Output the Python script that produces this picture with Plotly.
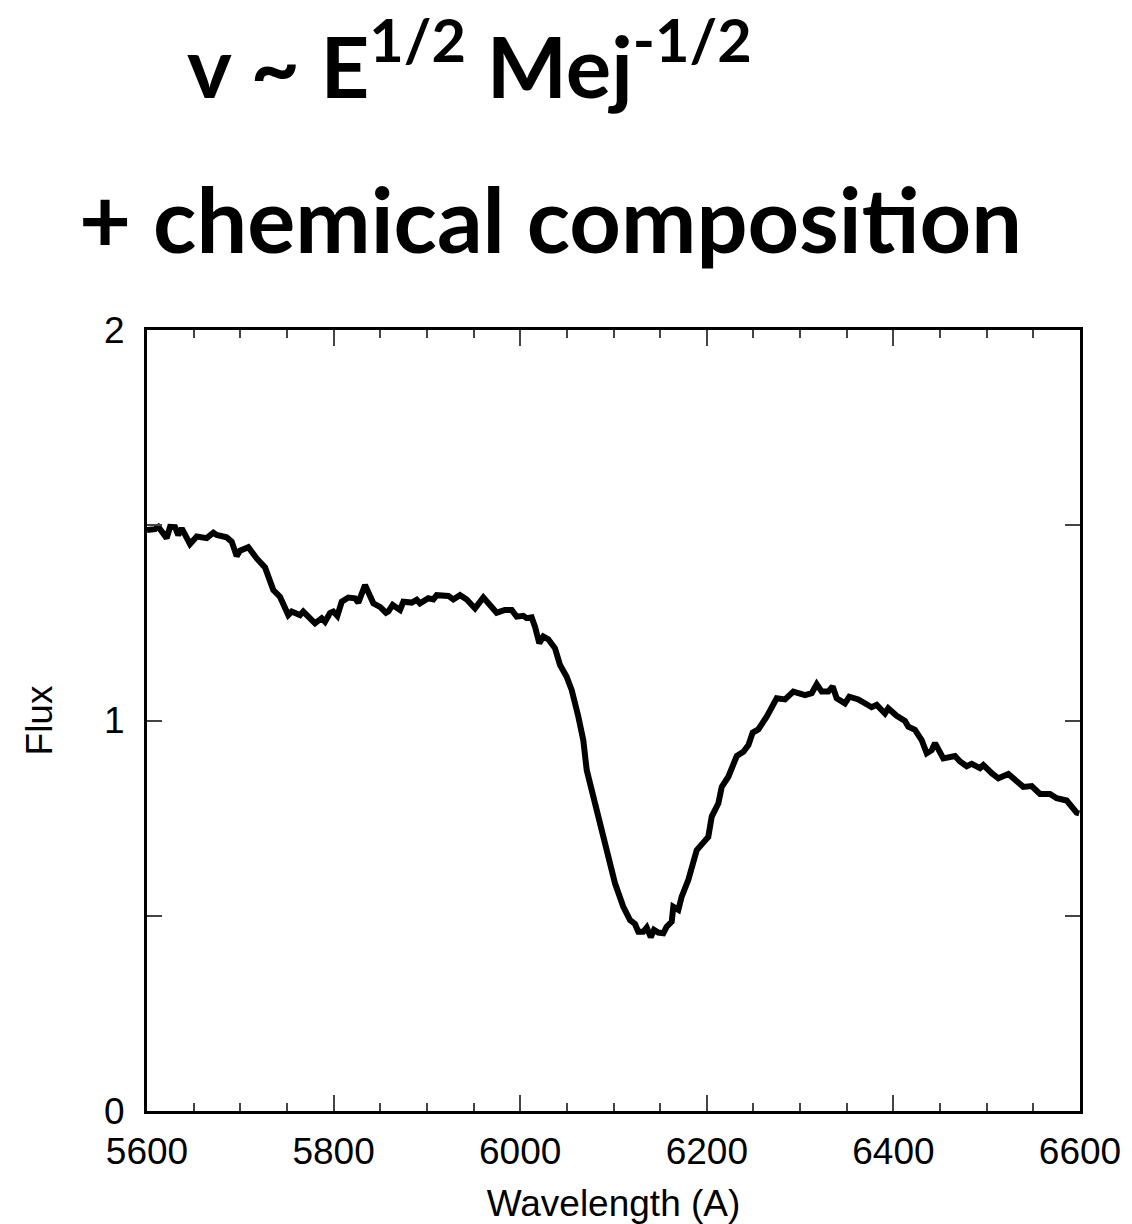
import plotly.graph_objects as go

wavelength = [5600, 5608.6, 5612.1, 5621.1, 5624.7, 5630.0, 5633.5, 5637.2, 5646.1, 5653.3,
              5664.0, 5671.1, 5674.7, 5685.4, 5690.8, 5696.1, 5699.7, 5708.6, 5717.6, 5726.5,
              5735.4, 5742.5, 5751.4, 5755.1, 5764.0, 5767.5, 5772.9, 5780.1, 5787.2, 5790.8,
              5796.1, 5799.7, 5804.0, 5808.7, 5815.8, 5822.9, 5826.5, 5833.7, 5842.6, 5849.7,
              5856.2, 5858.6, 5863.3, 5871.2, 5874.7, 5883.7, 5889.1, 5892.6, 5901.5, 5906.9,
              5910.5, 5923.0, 5928.3, 5935.5, 5942.7, 5951.6, 5960.5, 5967.6, 5974.8, 5983.7,
              5990.9, 5996.2, 6003.3, 6007.0, 6012.3, 6015.9, 6020.5, 6024.8, 6030.1, 6037.3,
              6042.7, 6049.8, 6055.2, 6062.3, 6067.6, 6071.3, 6078.4, 6085.5, 6092.7, 6101.6,
              6110.5, 6117.7, 6123.0, 6126.6, 6131.9, 6135.6, 6139.9, 6143.4, 6148.0, 6153.4,
              6157.0, 6162.4, 6164.1, 6169.5, 6173.1, 6180.2, 6189.2, 6196.3, 6201.6, 6205.3,
              6212.4, 6216.0, 6223.1, 6232.1, 6239.2, 6244.6, 6249.2, 6255.2, 6264.2, 6274.9,
              6283.8, 6292.7, 6305.3, 6312.4, 6317.8, 6323.2, 6330.2, 6334.9, 6339.2, 6348.1,
              6352.7, 6362.4, 6369.5, 6376.7, 6382.1, 6391.0, 6394.5, 6403.5, 6412.4, 6416.0,
              6423.1, 6430.3, 6435.7, 6441.0, 6444.6, 6453.5, 6466.0, 6471.4, 6478.6, 6483.9,
              6492.8, 6496.4, 6505.4, 6512.5, 6523.2, 6530.4, 6539.2, 6548.2, 6557.1, 6567.8,
              6575.0, 6585.7, 6596.4, 6599.2]

flux = [1.488, 1.490, 1.496, 1.467, 1.496, 1.495, 1.475, 1.492, 1.452, 1.471,
        1.467, 1.481, 1.475, 1.469, 1.458, 1.421, 1.435, 1.444, 1.415, 1.392,
        1.334, 1.317, 1.270, 1.279, 1.270, 1.279, 1.266, 1.249, 1.262, 1.253,
        1.275, 1.279, 1.268, 1.304, 1.315, 1.313, 1.302, 1.347, 1.300, 1.291,
        1.276, 1.279, 1.296, 1.283, 1.304, 1.302, 1.309, 1.300, 1.313, 1.310,
        1.321, 1.319, 1.310, 1.321, 1.310, 1.287, 1.315, 1.296, 1.276, 1.283,
        1.283, 1.266, 1.268, 1.262, 1.264, 1.240, 1.198, 1.215, 1.208, 1.185,
        1.142, 1.112, 1.078, 1.010, 0.950, 0.873, 0.805, 0.737, 0.668, 0.583,
        0.523, 0.489, 0.479, 0.459, 0.459, 0.470, 0.445, 0.464, 0.457, 0.455,
        0.472, 0.485, 0.523, 0.515, 0.549, 0.592, 0.668, 0.686, 0.702, 0.754,
        0.788, 0.830, 0.856, 0.909, 0.920, 0.937, 0.969, 0.977, 1.010, 1.057,
        1.054, 1.074, 1.065, 1.070, 1.093, 1.074, 1.074, 1.087, 1.057, 1.044,
        1.061, 1.054, 1.044, 1.034, 1.040, 1.018, 1.031, 1.012, 0.999, 0.984,
        0.976, 0.950, 0.916, 0.924, 0.942, 0.903, 0.909, 0.895, 0.883, 0.889,
        0.878, 0.886, 0.865, 0.852, 0.863, 0.846, 0.830, 0.832, 0.812, 0.812,
        0.801, 0.795, 0.764, 0.762]

x_tickvals = [5600, 5800, 6000, 6200, 6400, 6600]
y_tickvals = [0, 1, 2]

title_line1 = "v ~ E<sup>1/2</sup> Mej<sup>-1/2</sup>"
title_line2 = "+ chemical composition"

fig = go.Figure()
fig.add_trace(go.Scatter(x=wavelength, y=flux, mode="lines",
                         line=dict(color="black", width=6), showlegend=False))

axis_font = dict(family="Liberation Sans, Arial, sans-serif", size=37, color="black")

fig.update_layout(
    width=1132, height=1224,
    margin=dict(l=147, r=52, t=330, b=113, autoexpand=False),
    paper_bgcolor="white", plot_bgcolor="white",
    xaxis=dict(range=[5600, 6600], tickvals=x_tickvals, ticks="inside", ticklen=16,
               tickwidth=1.5, tickcolor="#444", showline=True, linewidth=3, linecolor="black",
               mirror="allticks", showgrid=False, zeroline=False, tickfont=axis_font,
               ticklabelstandoff=6, automargin=False,
               minor=dict(dtick=50, tick0=5600, ticks="inside", ticklen=8, tickwidth=1.5,
                          tickcolor="#444", showgrid=False),
               title=dict(text="Wavelength (A)", font=axis_font, standoff=21)),
    yaxis=dict(range=[0, 2], tickvals=y_tickvals, ticks="inside",
               ticklen=15, tickwidth=1.5, tickcolor="#444", showline=True, linewidth=3,
               linecolor="black", mirror="allticks", showgrid=False, zeroline=False,
               tickfont=axis_font, ticklabelstandoff=12, automargin=False,
               minor=dict(dtick=0.5, tick0=0, ticks="inside", ticklen=15, tickwidth=1.5,
                          tickcolor="#444", showgrid=False),
               title=dict(text="Flux", font=axis_font, standoff=41)),
    font=dict(family="Liberation Sans, Arial, sans-serif", color="black"),
)

fig.add_annotation(text="<b>" + title_line1 + "</b>", xref="paper", yref="paper",
                   x=0.346, y=1.346, xanchor="center", yanchor="middle", showarrow=False,
                   font=dict(family="Lato, sans-serif", size=85, color="black"))
fig.add_annotation(text="<b>" + title_line2 + "</b>", xref="paper", yref="paper",
                   x=0.432, y=1.143, xanchor="center", yanchor="middle", showarrow=False,
                   font=dict(family="Lato, sans-serif", size=90, color="black"))

fig.write_html("out.html")
